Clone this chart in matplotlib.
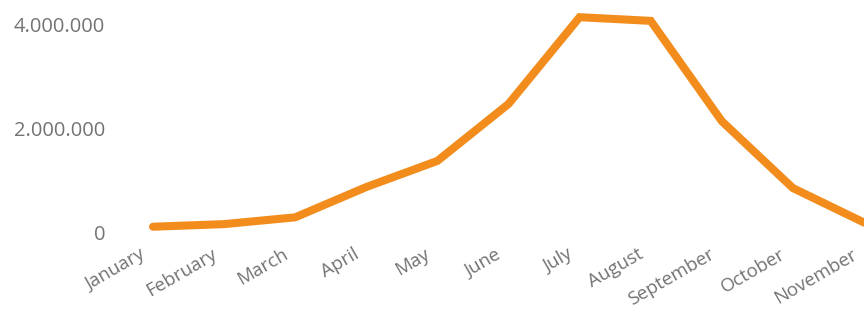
import matplotlib
matplotlib.use("Agg")
import matplotlib.pyplot as plt
from matplotlib.ticker import FuncFormatter
from matplotlib.transforms import ScaledTranslation

months = ["January", "February", "March", "April", "May", "June", "July",
          "August", "September", "October", "November"]
values = [120000, 170000, 300000, 880000, 1380000, 2470000, 4130000,
          4060000, 2140000, 860000, 200000]
yticks = [0, 2000000, 4000000]

plt.rcParams['font.family'] = ['Open Sans', 'DejaVu Sans']

W, H = 864, 313
fig = plt.figure(figsize=(W/100, H/100), dpi=100)
x0 = 153
spacing = 72.3
y0 = 233
px_per_2m = 104.5
ymax = 4.4e6
top_px = y0 - ymax/2e6*px_per_2m
xmax = (W - x0)/spacing
ax = fig.add_axes([x0/W, (H-y0)/H, (W-x0)/W, (y0-top_px)/H])
ax.set_xlim(0, xmax)
ax.set_ylim(0, ymax)

xs = list(range(len(months)))
ax.plot(xs, values, color="#F28C1C", linewidth=5.8, solid_capstyle='round',
        solid_joinstyle='miter', clip_on=False)

for s in ax.spines.values():
    s.set_visible(False)
ax.set_yticks(yticks)
ax.yaxis.set_major_formatter(FuncFormatter(lambda v, p: f"{int(v):,}".replace(",", ".")))
ax.set_xticks(xs)
ax.set_xticklabels(months, rotation=30, ha='right', va='top', rotation_mode='anchor')
ax.tick_params(axis='y', length=0, pad=34.5, labelsize=14.5, labelcolor="#737373")
ax.tick_params(axis='x', length=0, pad=9, labelsize=13.5, labelcolor="#737373")
shift = ScaledTranslation(-13/100, 0, fig.dpi_scale_trans)
for lbl in ax.get_xticklabels():
    lbl.set_transform(lbl.get_transform() + shift)

fig.savefig("out.png", dpi=100)
